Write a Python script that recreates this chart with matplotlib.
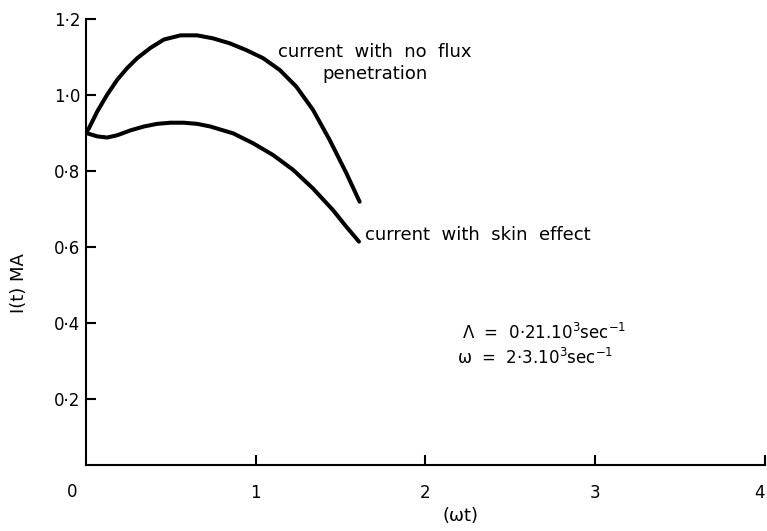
import matplotlib
matplotlib.use("Agg")
import matplotlib.pyplot as plt

# Data
x_noflux = [0.0, 0.018, 0.067, 0.125, 0.184, 0.243, 0.302, 0.38, 0.459, 0.557, 0.655,
            0.749, 0.847, 0.945, 1.043, 1.141, 1.239, 1.337, 1.435, 1.534, 1.612]
y_noflux = [0.90, 0.913, 0.957, 1.001, 1.040, 1.071, 1.097, 1.124, 1.146, 1.157, 1.157,
            1.149, 1.136, 1.118, 1.097, 1.066, 1.022, 0.961, 0.882, 0.794, 0.719]

x_skin = [0.0, 0.067, 0.125, 0.184, 0.263, 0.341, 0.419, 0.498, 0.576, 0.655, 0.733,
          0.792, 0.867, 0.984, 1.102, 1.22, 1.337, 1.455, 1.534, 1.608]
y_skin = [0.90, 0.891, 0.888, 0.894, 0.907, 0.917, 0.924, 0.927, 0.927, 0.924, 0.917,
          0.909, 0.899, 0.873, 0.842, 0.803, 0.754, 0.697, 0.653, 0.614]

x_ticks = [1, 2, 3, 4]
x_ticklabels = ["1", "2", "3", "4"]
y_ticks = [0.2, 0.4, 0.6, 0.8, 1.0, 1.2]
y_ticklabels = ["0·2", "0·4", "0·6", "0·8", "1·0", "1·2"]

fig = plt.figure(figsize=(7.67, 5.31), dpi=100)
ax = fig.add_axes([0.1121, 0.1243, 0.8853, 0.8399])

for xs, ys in [(x_noflux, y_noflux), (x_skin, y_skin)]:
    ax.plot(xs, ys, color="black", lw=2.9, solid_capstyle="round",
            solid_joinstyle="round")

ax.set_xlim(0, 4)
ax.set_ylim(0.026, 1.2)
for s in ["top", "right"]:
    ax.spines[s].set_visible(False)
for s in ["left", "bottom"]:
    ax.spines[s].set_linewidth(1.5)

ax.set_xticks(x_ticks)
ax.set_xticklabels(x_ticklabels)
ax.set_yticks(y_ticks)
ax.set_yticklabels(y_ticklabels)
ax.tick_params(axis="both", direction="in", length=7, width=1.5, labelsize=12)
ax.tick_params(axis="y", pad=4)
ax.tick_params(axis="x", pad=14)
ax.get_xticklabels()[-1].set_ha("right")

ax.text(-0.08, -0.045, "0", ha="center", va="center", fontsize=12)

ax.text(1.70, 1.084, "current  with  no  flux\npenetration", ha="center", va="center",
        fontsize=13, linespacing=1.25)
ax.text(1.641, 0.632, "current  with  skin  effect", ha="left", va="center", fontsize=13)

ax.text(2.215, 0.374, "Λ  =  0·21.10$^3$sec$^{-1}$", ha="left", va="center", fontsize=12)
ax.text(2.185, 0.308, "ω  =  2·3.10$^3$sec$^{-1}$", ha="left", va="center", fontsize=12)

ax.set_xlabel("(ωt)", fontsize=13)
ax.xaxis.set_label_coords(0.551, -0.094)
ax.set_ylabel("I(t) MA", fontsize=13)
ax.yaxis.set_label_coords(-0.0854, 0.408)

fig.savefig("out.png", dpi=100)
